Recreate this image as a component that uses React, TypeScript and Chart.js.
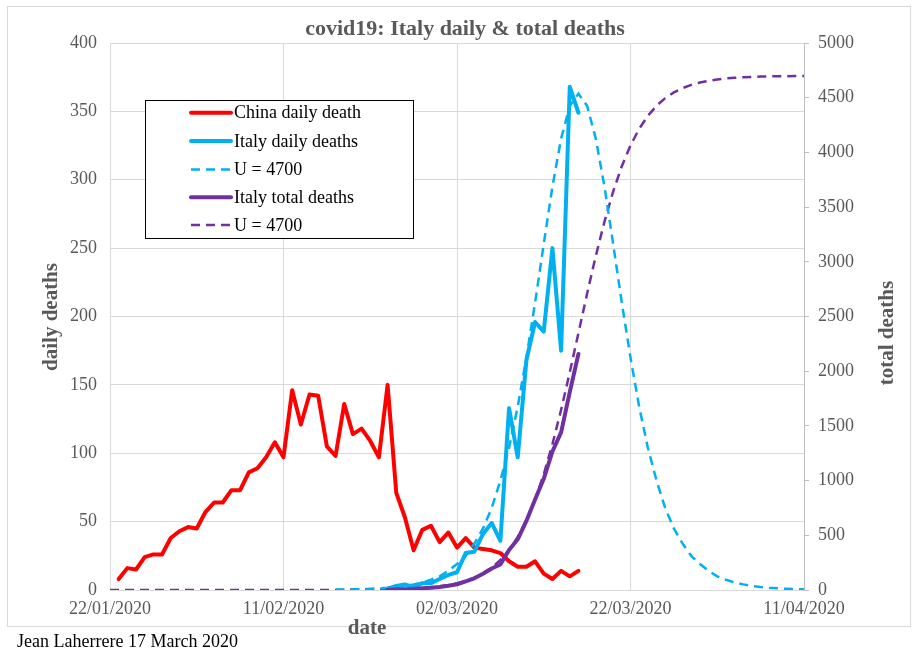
import { useEffect, useRef } from "react";
import { Chart, registerables } from "chart.js";

Chart.register(...registerables);

// x axis: days since 22/01/2020 (0..80), ticks every 20 days
const xTickLabels = ["22/01/2020", "11/02/2020", "02/03/2020", "22/03/2020", "11/04/2020"];

// China daily deaths, from day 1 (23/01) to day 54 (16/03)
const chinaStart = 1;
const chinaDaily = [
  8, 16, 15, 24, 26, 26, 38, 43, 46, 45,
  57, 64, 64, 73, 73, 86, 89, 97, 108, 97,
  146, 121, 143, 142, 105, 98, 136, 114, 118, 109, 97, 150,
  71, 53, 29, 44, 47, 35, 42, 31, 38, 31,
  30, 29, 27, 21, 17, 17, 21, 12, 8, 14, 10, 14,
];

// Italy, from day 32 (23/02) to day 54 (16/03)
const italyStart = 32;
const italyDaily = [1, 3, 4, 2, 5, 5, 8, 11, 13, 27, 28, 41, 49, 36, 133, 97, 168, 196, 189, 250, 175, 368, 349];
const italyTotal = [1, 4, 8, 10, 15, 20, 28, 39, 52, 79, 107, 148, 197, 233, 366, 463, 631, 827, 1016, 1266, 1441, 1809, 2158];

// Model U = 4700, daily (from day 26) and total (from day 0)
const modelDailyStart = 26;
const modelDaily = [
  0.3, 0.4, 0.5, 0.6, 0.9, 1.2, 1.6, 2.2, 3, 4.1,
  5.5, 7.5, 10, 14, 19, 25, 34, 45, 60, 80,
  104, 134, 170, 210, 253, 295, 330, 354, 363, 354,
  330, 295, 253, 210, 170, 134, 104, 80, 60, 45,
  34, 25, 19, 14, 10, 7.5, 5.5, 4.1, 3, 2.2,
  1.6, 1.2, 0.9, 0.6, 0.5,
];
const modelTotalStart = 0;
const modelTotal = [
  0, 0, 0, 0, 0, 0, 0, 0, 0, 0,
  0, 0, 0, 0, 0, 0, 0, 0, 0, 0,
  0, 0.2, 0.2, 0.3, 0.4, 0.6, 0.8, 1.1, 1.5, 2.1,
  2.8, 3.8, 5.2, 7.1, 9.7, 13, 18, 25, 33, 45,
  61, 83, 112, 152, 204, 274, 366, 485, 636, 826,
  1058, 1333, 1646, 1990, 2350, 2710, 3054, 3367, 3642, 3874,
  4064, 4215, 4334, 4426, 4496, 4548, 4588, 4617, 4639, 4655,
  4667, 4676, 4682, 4687, 4690, 4693, 4695, 4696, 4697, 4698, 4698,
];

const RED = "#FF0000";
const BLUE = "#00B0F0";
const PURPLE = "#7030A0";
const GRID = "#D9D9D9";
const TEXT = "#595959";
const SERIF = "'Liberation Serif', 'Times New Roman', serif";

const toPoints = (start: number, arr: number[]) => arr.map((y, i) => ({ x: start + i, y }));

const decorPlugin = {
  id: "decor",
  beforeDraw(chart: any) {
    const ctx = chart.ctx as CanvasRenderingContext2D;
    ctx.save();
    ctx.fillStyle = "#FFFFFF";
    ctx.fillRect(0, 0, chart.width, chart.height);
    ctx.strokeStyle = GRID;
    ctx.lineWidth = 1;
    ctx.strokeRect(7.5, 6.5, 903, 620);
    ctx.restore();
  },
  afterDraw(chart: any) {
    const ctx = chart.ctx as CanvasRenderingContext2D;
    ctx.save();
    // title
    ctx.fillStyle = TEXT;
    ctx.font = `bold 22px ${SERIF}`;
    ctx.textAlign = "center";
    ctx.textBaseline = "alphabetic";
    ctx.fillText("covid19: Italy daily & total deaths", 465, 35);
    // x title
    ctx.font = `bold 21px ${SERIF}`;
    ctx.fillText("date", 367, 634);
    // y titles
    ctx.textBaseline = "middle";
    ctx.save();
    ctx.translate(52, 317);
    ctx.rotate(-Math.PI / 2);
    ctx.fillText("daily deaths", 0, 0);
    ctx.restore();
    ctx.save();
    ctx.translate(888, 333);
    ctx.rotate(-Math.PI / 2);
    ctx.fillText("total deaths", 0, 0);
    ctx.restore();
    // credit
    ctx.fillStyle = "#000000";
    ctx.font = `18px ${SERIF}`;
    ctx.textAlign = "left";
    ctx.textBaseline = "alphabetic";
    ctx.fillText("Jean Laherrere 17 March 2020", 17, 647);

    // legend box
    const bx = 145.5, by = 100.5, bw = 268, bh = 138;
    ctx.fillStyle = "#FFFFFF";
    ctx.fillRect(bx, by, bw, bh);
    ctx.strokeStyle = "#000000";
    ctx.lineWidth = 1;
    ctx.strokeRect(bx, by, bw, bh);
    const rows = [112.7, 141, 169.5, 197.3, 225];
    chart.data.datasets.forEach((ds: any, i: number) => {
      const y = rows[i];
      ctx.save();
      ctx.strokeStyle = ds.borderColor;
      ctx.lineWidth = ds.borderWidth;
      ctx.setLineDash(ds.borderDash || []);
      ctx.lineCap = ds.borderDash ? "butt" : "round";
      ctx.beginPath();
      ctx.moveTo(191, y);
      ctx.lineTo(231, y);
      ctx.stroke();
      ctx.restore();
      ctx.fillStyle = "#000000";
      ctx.font = `18px ${SERIF}`;
      ctx.textAlign = "left";
      ctx.textBaseline = "middle";
      ctx.fillText(ds.label, 234, y + 1);
    });
    ctx.restore();
  },
};

export default function App() {
  const canvasRef = useRef<HTMLCanvasElement | null>(null);

  useEffect(() => {
    if (!canvasRef.current) return;
    const chart = new Chart(canvasRef.current, {
      type: "line",
      data: {
        datasets: [
          {
            label: "China daily death",
            data: toPoints(chinaStart, chinaDaily),
            borderColor: RED,
            borderWidth: 4,
            borderJoinStyle: "round",
            borderCapStyle: "round",
            yAxisID: "y",
            order: 5,
          },
          {
            label: "Italy daily deaths",
            data: toPoints(italyStart, italyDaily),
            borderColor: BLUE,
            borderWidth: 4,
            borderJoinStyle: "round",
            borderCapStyle: "round",
            yAxisID: "y",
            order: 2,
          },
          {
            label: "U = 4700",
            data: toPoints(modelDailyStart, modelDaily),
            borderColor: BLUE,
            borderWidth: 2.5,
            borderDash: [9, 6],
            yAxisID: "y",
            order: 3,
          },
          {
            label: "Italy total deaths",
            data: toPoints(italyStart, italyTotal),
            borderColor: PURPLE,
            borderWidth: 4,
            borderJoinStyle: "round",
            borderCapStyle: "round",
            yAxisID: "y2",
            order: 1,
          },
          {
            label: "U = 4700",
            data: toPoints(modelTotalStart, modelTotal),
            borderColor: PURPLE,
            borderWidth: 2.5,
            borderDash: [9, 6],
            yAxisID: "y2",
            order: 4,
          },
        ] as any,
      },
      options: {
        responsive: false,
        animation: false,
        layout: { padding: { top: 43, left: 0, right: 0, bottom: 0 } },
        elements: { point: { radius: 0 }, line: { tension: 0 } },
        plugins: {
          legend: { display: false },
          title: { display: false },
          tooltip: { enabled: false },
        },
        scales: {
          x: {
            type: "linear",
            min: 0,
            max: 80,
            afterFit: (s: any) => {
              s.height = 68;
            },
            ticks: {
              stepSize: 20,
              autoSkip: false,
              maxRotation: 0,
              color: TEXT,
              padding: 8,
              font: { family: SERIF, size: 18 },
              callback: (v: any) => xTickLabels[Math.round(Number(v) / 20)] ?? "",
            },
            grid: { color: GRID, drawTicks: false },
            border: { color: GRID },
          },
          y: {
            position: "left",
            min: 0,
            max: 400,
            afterFit: (s: any) => {
              s.width = 110;
            },
            ticks: {
              stepSize: 50,
              color: TEXT,
              padding: 13,
              font: { family: SERIF, size: 18 },
              callback: (v: any) => String(v),
            },
            grid: { color: GRID, drawTicks: false },
            border: { color: GRID },
          },
          y2: {
            position: "right",
            min: 0,
            max: 5000,
            afterFit: (s: any) => {
              s.width = 113;
            },
            ticks: {
              stepSize: 500,
              color: TEXT,
              padding: 9,
              font: { family: SERIF, size: 18 },
              callback: (v: any) => String(v),
            },
            grid: { drawOnChartArea: false, tickLength: 5, color: "#BFBFBF" },
            border: { color: "#BFBFBF" },
          },
        },
      } as any,
      plugins: [decorPlugin],
    });
    return () => chart.destroy();
  }, []);

  return (
    <div style={{ position: "fixed", left: 0, top: 0, width: 917, height: 658, background: "#fff" }}>
      <canvas ref={canvasRef} width={917} height={658} style={{ display: "block" }} />
    </div>
  );
}
